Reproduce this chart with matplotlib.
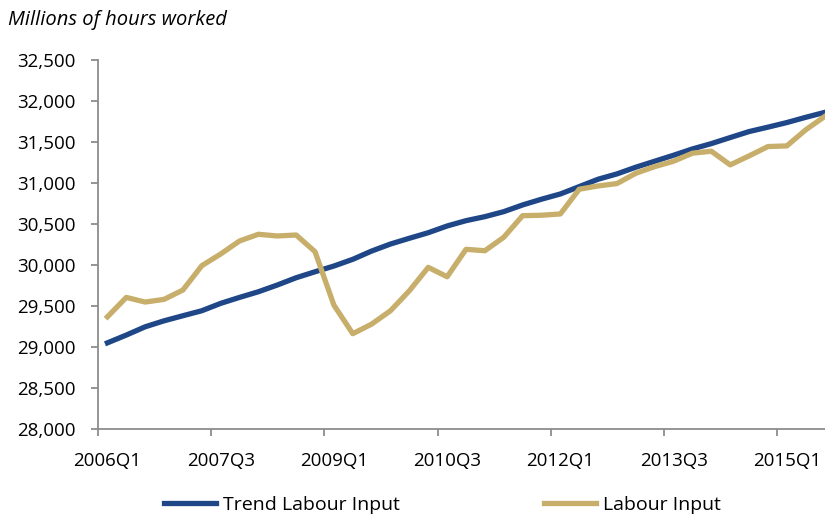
import numpy as np
import matplotlib
matplotlib.use('Agg')
import matplotlib.pyplot as plt

plt.rcParams['font.family'] = ['Open Sans', 'DejaVu Sans']

# quarters 2006Q1 .. 2015Q3
quarters = ['%dQ%d' % (2006 + k // 4, k % 4 + 1) for k in range(39)]

trend = [29046, 29141, 29242, 29315, 29377, 29438, 29528, 29601, 29670, 29752,
         29841, 29914, 29984, 30066, 30167, 30253, 30323, 30391, 30473, 30538,
         30587, 30648, 30730, 30800, 30864, 30954, 31044, 31109, 31191, 31264,
         31337, 31414, 31479, 31553, 31626, 31680, 31736, 31800, 31860]

labour = [29364, 29601, 29544, 29577, 29691, 29988, 30131, 30290, 30372, 30351,
          30363, 30159, 29507, 29158, 29275, 29438, 29682, 29968, 29853, 30188,
          30171, 30335, 30599, 30604, 30620, 30922, 30962, 30991, 31117, 31198,
          31264, 31362, 31386, 31219, 31329, 31443, 31451, 31647, 31809]

blue = '#1f4788'
gold = '#c8ae6b'
grey = '#8c8c8c'

fig = plt.figure(figsize=(8.25, 5.17), dpi=100)
ax = fig.add_axes([98 / 825, 1 - 428.5 / 517, 736 / 825, (428.5 - 60) / 517])

x = np.arange(len(quarters))
ax.plot(x, trend, color=blue, lw=3.8, label='Trend Labour Input', solid_joinstyle='round')
ax.plot(x, labour, color=gold, lw=3.8, label='Labour Input', solid_joinstyle='round')

ax.set_xlim(-0.5, len(quarters) - 0.5)
ax.set_ylim(28000, 32500)
ax.set_yticks(np.arange(28000, 32501, 500))
ax.yaxis.set_major_formatter(matplotlib.ticker.FuncFormatter(lambda v, p: '{:,.0f}'.format(v)))

# ticks between categories, labels centred on categories
ax.set_xticks(np.arange(-0.5, len(quarters), 6))
ax.set_xticklabels([])
ax.set_xticks(x[::6], minor=True)
ax.set_xticklabels(quarters[::6], minor=True)
ax.tick_params(axis='x', which='minor', length=0, pad=17, labelsize=13.5, colors='black')
ax.tick_params(axis='x', which='major', length=5, width=1.3, color=grey)
ax.tick_params(axis='y', length=5, width=1.3, color=grey, labelsize=13.5, pad=11)

for s in ['top', 'right']:
    ax.spines[s].set_visible(False)
for s in ['left', 'bottom']:
    ax.spines[s].set_color(grey)
    ax.spines[s].set_linewidth(1.3)

fig.text(8 / 825, 1 - 20 / 517, 'Millions of hours worked', style='italic', fontsize=14.5,
         va='center', ha='left')

h, l = ax.get_legend_handles_labels()
fig.legend(h, l, loc='center', bbox_to_anchor=(0.536, 1 - 505 / 517), ncol=2, frameon=False,
           fontsize=14, handlelength=2.7, handletextpad=0.35, columnspacing=7.4)

fig.savefig('out.png', dpi=100)
